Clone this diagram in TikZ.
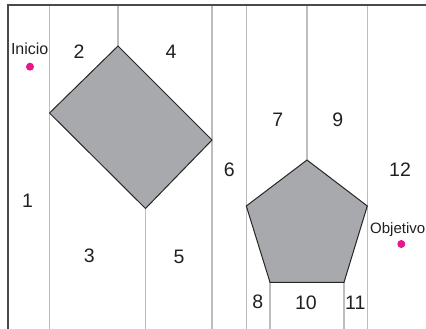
\documentclass[tikz,border=0pt]{standalone}
\usepackage{fontspec}
\setmainfont{Liberation Sans}
\definecolor{gridgray}{HTML}{BDBDBF}
\definecolor{shapegray}{HTML}{A8A9AC}
\definecolor{framegray}{HTML}{4A4A4A}
\definecolor{dotpink}{HTML}{E8188C}
\definecolor{txt}{HTML}{231F20}
\tikzset{
  gridline/.style={draw=gridgray, line width=1.3pt},
  frameline/.style={draw=framegray, line width=1.5pt},
  obstacle/.style={fill=shapegray, draw=black!85, line width=1pt, line join=miter},
  num/.style={inner sep=0pt, anchor=base, text=txt, font=\fontsize{19.5}{20}\selectfont},
  lbl/.style={inner sep=0pt, anchor=base, text=txt, font=\fontsize{16}{17}\selectfont},
  dot/.style={circle, fill=dotpink, inner sep=0pt, minimum size=8pt}
}
\begin{document}
\begin{tikzpicture}[x=1pt,y=-1pt]
\useasboundingbox (0,0) rectangle (426,329);
% diamond vertices
\coordinate (dT) at (118,46);
\coordinate (dL) at (49.5,113);
\coordinate (dR) at (212,140);
\coordinate (dB) at (145.5,208.5);
% pentagon vertices
\coordinate (pT) at (307,160);
\coordinate (pL) at (246.3,206);
\coordinate (pR) at (367.3,206);
\coordinate (pBL) at (270,282.3);
\coordinate (pBR) at (344,282.3);
% grid line ends
\coordinate (t1) at (49.5,5);   \coordinate (b1) at (49.5,329);
\coordinate (t2) at (118,5);
\coordinate (b3) at (145.5,329);
\coordinate (t4) at (212,5);    \coordinate (b4) at (212,329);
\coordinate (t5) at (246.3,5);  \coordinate (b5) at (246.3,329);
\coordinate (t6) at (307,5);
\coordinate (t7) at (367.3,5);  \coordinate (b7) at (367.3,329);
\coordinate (b8) at (270,329);
\coordinate (b9) at (344,329);
\coordinate (fTL) at (8,5);
\coordinate (fTR) at (426,5);
\coordinate (fBL) at (8,329);
% grid lines
\draw[gridline] (t1) -- (b1);
\draw[gridline] (t2) -- (dT);
\draw[gridline] (dB) -- (b3);
\draw[gridline] (t4) -- (b4);
\draw[gridline] (t5) -- (b5);
\draw[gridline] (t6) -- (pT);
\draw[gridline] (t7) -- (b7);
\draw[gridline] (pBL) -- (b8);
\draw[gridline] (pBR) -- (b9);
% frame
\draw[frameline] (fBL) -- (fTL) -- (fTR);
% obstacles
\draw[obstacle] (dT) -- (dR) -- (dB) -- (dL) -- cycle;
\draw[obstacle] (pT) -- (pR) -- (pBR) -- (pBL) -- (pL) -- cycle;
% labels
\node[lbl] (inicio) at (29.7,55) {Inicio};
\node[dot] (dotA) at (30,66.7) {};
\node[lbl, anchor=base west, font=\fontsize{15}{16}\selectfont] (objetivo) at (370,233) {Objetivo};
\node[dot] (dotB) at (401.3,244) {};
% region numbers
\node[num] (n1) at (27.5,207) {1};
\node[num] (n2) at (79,58.7) {2};
\node[num] (n3) at (89.3,262.7) {3};
\node[num] (n4) at (171,58.7) {4};
\node[num] (n5) at (179,263.7) {5};
\node[num] (n6) at (229.3,176.3) {6};
\node[num] (n7) at (277.7,126.3) {7};
\node[num] (n8) at (257.7,308.3) {8};
\node[num] (n9) at (337.7,126.3) {9};
\node[num] (n10) at (306,309.7) {10};
\node[num] (n11) at (355.3,309.7) {11};
\node[num] (n12) at (400,176.3) {12};
\end{tikzpicture}
\end{document}
